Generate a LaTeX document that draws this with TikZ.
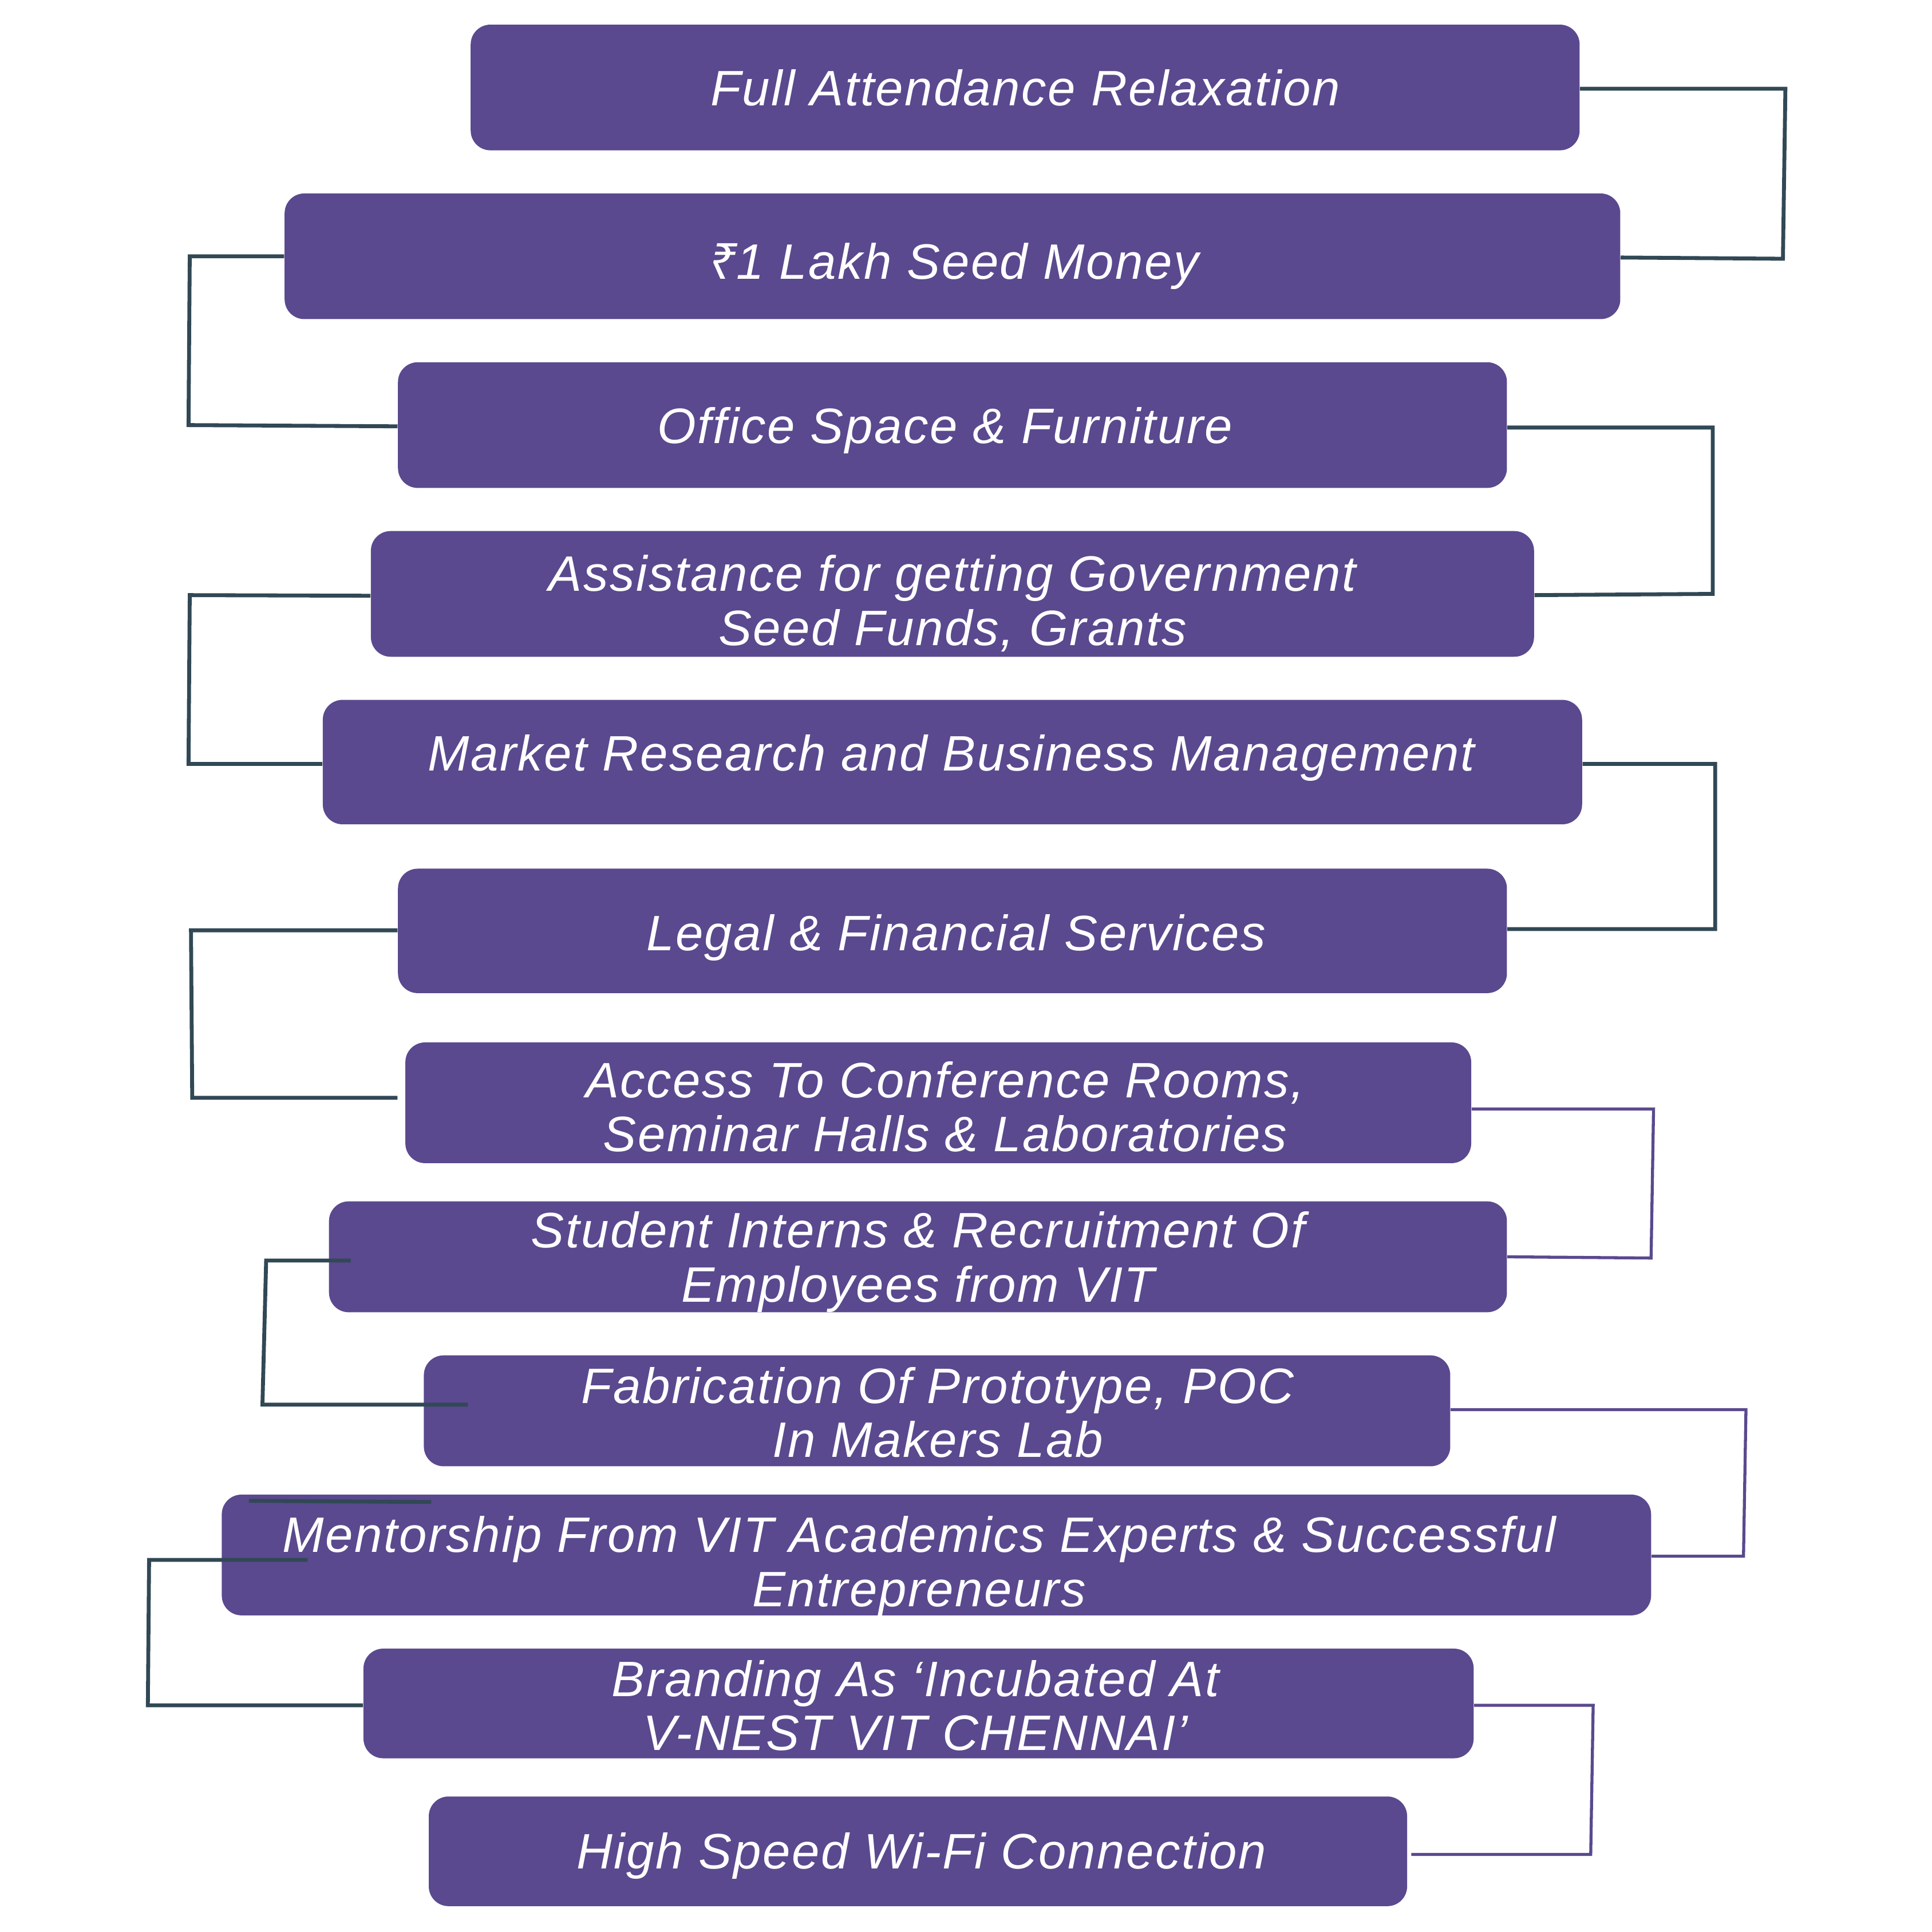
\documentclass[tikz,border=0pt]{standalone}
\usepackage{fontspec}
\newfontfamily\lblfont{Liberation Sans}[LetterSpace=3.0]
\newfontfamily\rupeefont{Noto Sans}
\usetikzlibrary{calc}
\definecolor{boxc}{HTML}{5A498E}
\definecolor{darkc}{HTML}{314855}
\tikzset{
  box/.style={rectangle, fill=boxc, draw=none, rounded corners=0.32cm, inner sep=0pt},
  txt/.style={text=white, font=\lblfont\itshape\fontsize{23}{25}\selectfont, align=center, inner sep=0pt, text height=16.4pt, text depth=0pt, anchor=north},
  dk/.style={draw=darkc, line width=1.8pt, line join=miter},
  pp/.style={draw=boxc, line width=1.4pt, line join=miter}
}
\newcommand\mkbox[5]{\node[box, minimum width=#4*0.02cm, minimum height=#5*0.02cm] (#1) at (#2,#3) {};}
\begin{document}
\begin{tikzpicture}[x=0.02cm, y=-0.02cm]
\useasboundingbox (0,0) rectangle (1568,1568);
% boxes
\mkbox{b1}{832}{71}{900}{102}
\mkbox{b2}{773}{208}{1084}{102}
\mkbox{b3}{773}{345}{900}{102}
\mkbox{b4}{773}{482}{944}{102}
\mkbox{b5}{773}{618.5}{1022}{101}
\mkbox{b6}{773}{755.5}{900}{101}
\mkbox{b7}{761.5}{895}{865}{98}
\mkbox{b8}{745}{1020}{956}{90}
\mkbox{b9}{760.5}{1145}{833}{90}
\mkbox{b10}{760}{1262}{1160}{98}
\mkbox{b11}{745.5}{1382.5}{901}{89}
\mkbox{b12}{745}{1502.5}{794}{89}
% texts (anchored at cap top of last line)
\node[txt] (t1) at (832,56.5) {Full Attendance Relaxation};
\node[txt] (t2) at (774,197.5) {{\rupeefont\itshape ₹}1 Lakh Seed Money};
\node[txt] (t3) at (767,330.5) {Office Space \& Furniture};
\node[txt] (t4) at (773,494.5) {Assistance for getting Government\\Seed Funds, Grants};
\node[txt] (t5) at (772,596.5) {Market Research and Business Management};
\node[txt] (t6) at (776,742.5) {Legal \& Financial Services};
\node[txt] (t7) at (767,905.5) {Access To Conference Rooms,\\Seminar Halls \& Laboratories};
\node[txt] (t8) at (745,1027.5) {Student Interns \& Recruitment Of\\Employees from VIT};
\node[txt] (t9) at (761,1153.5) {Fabrication Of Prototype, POC\\In Makers Lab};
\node[txt] (t10) at (746,1274.5) {Mentorship From VIT Academics Experts \& Successful\\Entrepreneurs};
\node[txt] (t11) at (743,1391.5) {Branding As ‘Incubated At\\V-NEST VIT CHENNAI’};
\node[txt] (t12) at (748,1487.5) {High Speed Wi-Fi Connection};
% corner coordinates
\coordinate (a1) at (1449,72);   \coordinate (a2) at (1447,210);
\coordinate (c1) at (154,208);   \coordinate (c2) at (153,345);
\coordinate (d1) at (1390,347);  \coordinate (d2) at (1390,482);
\coordinate (e1) at (154,483);   \coordinate (e2) at (153,620);
\coordinate (f1) at (1392,620);  \coordinate (f2) at (1392,754);
\coordinate (g1) at (155,755);   \coordinate (g2) at (156,891);
\coordinate (h1) at (1342,900);  \coordinate (h2) at (1340,1021);
\coordinate (i1) at (216,1023);  \coordinate (i2) at (213,1140);
\coordinate (j1) at (1417,1144); \coordinate (j2) at (1415,1263);
\coordinate (k1) at (121,1266);  \coordinate (k2) at (120,1384);
\coordinate (l1) at (1293,1384); \coordinate (l2) at (1291,1505);
\coordinate (s1) at (202,1218);  \coordinate (s2) at (350,1219);
% connectors
\draw[dk] ($(b1.east)+(0,1)$) -- (a1) -- (a2) -- ($(b2.east)+(0,1)$);
\draw[dk] (b2.west) -- (c1) -- (c2) -- ($(b3.west)+(0,1)$);
\draw[dk] ($(b3.east)+(0,2)$) -- (d1) -- (d2) -- ($(b4.east)+(0,1)$);
\draw[dk] ($(b4.west)+(0,1.5)$) -- (e1) -- (e2) -- ($(b5.west)+(0,1.5)$);
\draw[dk] ($(b5.east)+(0,1.5)$) -- (f1) -- (f2) -- ($(b6.east)+(0,-1.5)$);
\draw[dk] ($(b6.west)+(0,-0.5)$) -- (g1) -- (g2) -- ($(b7.west)+(-6,-4)$);
\draw[pp] ($(b7.east)+(0,5)$) -- (h1) -- (h2) -- (b8.east);
\draw[dk] ($(b8.west)+(18,3)$) -- (i1) -- (i2) -- ($(b9.west)+(36,-5)$);
\draw[pp] ($(b9.east)+(0,-1)$) -- (j1) -- (j2) -- ($(b10.east)+(0,1)$);
\draw[dk] (s1) -- (s2);
\draw[dk] ($(b10.west)+(70,4)$) -- (k1) -- (k2) -- ($(b11.west)+(0,1.5)$);
\draw[pp] ($(b11.east)+(0,1.5)$) -- (l1) -- (l2) -- ($(b12.east)+(3,2.5)$);
\end{tikzpicture}
\end{document}
